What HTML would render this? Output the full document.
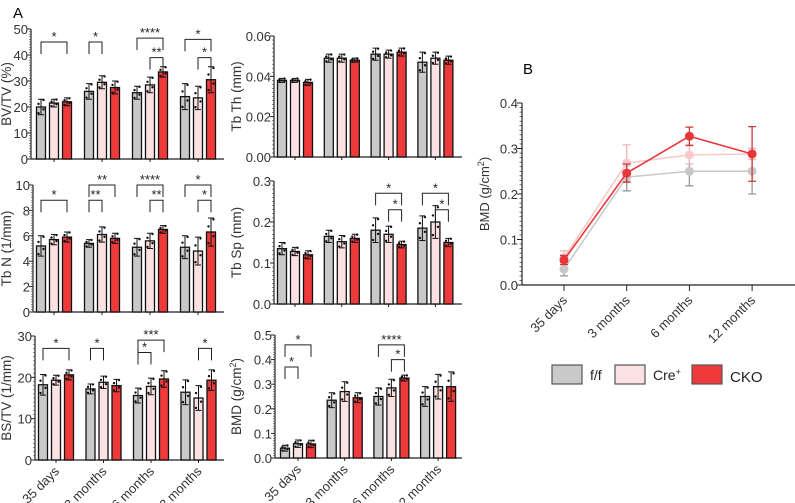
<!DOCTYPE html>
<html><head><meta charset="utf-8"><style>
html,body{margin:0;padding:0;background:#fff;}
svg{display:block;font-family:"Liberation Sans",Arial,sans-serif;}
</style></head><body>
<svg id="fig" width="795" height="503" viewBox="0 0 795 503">
<text x="13" y="18" font-size="15">A</text>
<text x="523" y="74" font-size="15">B</text>
</svg>
<script>
const groups = ["35 days","3 months","6 months","12 months"];
const genotypes = ["f/f","Cre+","CKO"];
const bvtvVals = [[20,21.5,22],[26,29.5,27.5],[25.5,28.5,33.5],[24,23.5,30.5]];
const bvtvErr = [[3,1.5,1.5],[3,2.5,2.5],[2.5,3,2],[5,4.5,5]];
const tbthVals = [[0.038,0.038,0.037],[0.049,0.049,0.048],[0.051,0.051,0.052],[0.047,0.049,0.048]];
const tbthErr = [[0.001,0.001,0.0015],[0.002,0.002,0.001],[0.003,0.002,0.002],[0.005,0.003,0.002]];
const tbnVals = [[5.2,5.7,5.9],[5.4,6.1,5.8],[5.1,5.6,6.5],[5.1,4.8,6.3]];
const tbnErr = [[0.8,0.4,0.4],[0.3,0.6,0.4],[0.7,0.6,0.3],[0.9,1.1,1.1]];
const tbspVals = [[0.135,0.128,0.12],[0.165,0.152,0.16],[0.18,0.17,0.145],[0.185,0.2,0.15]];
const tbspErr = [[0.015,0.01,0.01],[0.015,0.015,0.01],[0.03,0.02,0.008],[0.03,0.04,0.01]];
const bstvVals = [[18.2,19.3,20.6],[17.2,18.8,18],[15.6,17.8,19.6],[16.4,15,19.3]];
const bstvErr = [[2.5,1.2,1.2],[1.2,1.5,1.5],[1.8,2,2],[3,3,2.5]];
const bmdVals = [[0.04,0.058,0.057],[0.235,0.27,0.245],[0.25,0.285,0.325],[0.25,0.29,0.29]];
const bmdErr = [[0.012,0.015,0.015],[0.03,0.04,0.02],[0.035,0.035,0.012],[0.04,0.05,0.06]];
const bvtvSig = [[0,0,2,45,"*"],[1,0,1,45,"*"],[2,0,2,46.5,"****"],[2,1,2,39,"**"],[3,0,2,46,"*"],[3,1,2,39,"*"]];
const tbthSig = [];
const tbnSig = [[0,0,2,8.8,"*"],[1,0,2,10,"**"],[1,0,1,8.8,"**"],[2,0,2,10,"****"],[2,1,2,8.8,"**"],[3,0,2,10,"*"],[3,1,2,8.8,"*"]];
const tbspSig = [[2,0,2,0.27,"*"],[2,1,2,0.23,"*"],[3,0,2,0.27,"*"],[3,1,2,0.23,"*"]];
const bstvSig = [[0,0,2,27,"*"],[1,0,1,27,"*"],[2,0,2,29,"***"],[2,0,1,26,"*"],[3,1,2,27,"*"]];
const bmdSig = [[0,0,2,0.46,"*"],[0,0,1,0.37,"*"],[2,0,2,0.46,"****"],[2,1,2,0.40,"*"]];
const bvtvTicks = [0,10,20,30,40,50];
const tbthTicks = [0,0.02,0.04,0.06];
const tbnTicks = [0,2,4,6,8,10];
const tbspTicks = [0,0.1,0.2,0.3];
const bstvTicks = [0,10,20,30];
const bmdTicks = [0,0.1,0.2,0.3,0.4,0.5];
const lineMeans = [[0.035,0.237,0.25,0.25],[0.06,0.268,0.286,0.288],[0.055,0.246,0.327,0.288]];
const lineErr = [[0.015,0.03,0.032,0.05],[0.015,0.04,0.02,0.012],[0.01,0.02,0.02,0.06]];
const lineTicks = [0,0.1,0.2,0.3,0.4];

const colors = ["#c9c9c9","#fbe1e1","#ee3a3a"];
const NS="http://www.w3.org/2000/svg";
const svg=document.getElementById('fig');
function mk(tag,attrs,parent){const e=document.createElementNS(NS,tag);for(const k in attrs)e.setAttribute(k,attrs[k]);(parent||svg).appendChild(e);return e;}
function fmt(v,dec){return v.toFixed(dec);}

function barPanel(name,cfg,vals,errs,ticks,sigs,dec,label,labelHtml,showX){
  const g=mk('g',{});
  
  
  const max=ticks[ticks.length-1];
  const y=v=>cfg.yBot-(v/max)*(cfg.yBot-cfg.yTop);
  const gx=i=>cfg.g0+i*cfg.gs;
  const bx=(i,j)=>gx(i)+(j-1)*13;
  const ya=mk('line',{x1:cfg.ax,y1:cfg.yTop,x2:cfg.ax,y2:cfg.yBot,stroke:'#222','stroke-width':1.2},g);
  
  
  const xa=mk('line',{x1:cfg.ax,y1:cfg.yBot,x2:cfg.xEnd,y2:cfg.yBot,stroke:'#222','stroke-width':1.2},g);
  
  
  const nMinor=(ticks.length-1)*10;
  for(let k=0;k<=nMinor;k++){const v=max*k/nMinor;mk('line',{x1:cfg.ax-2,x2:cfg.ax,y1:y(v),y2:y(v),stroke:'#444','stroke-width':0.6},g);}
  ticks.forEach(t=>{
    mk('line',{x1:cfg.ax-4,x2:cfg.ax,y1:y(t),y2:y(t),stroke:'#222','stroke-width':1},g);
    const tx=mk('text',{x:cfg.ax-3,y:y(t)+5,'font-size':13,'text-anchor':'end',fill:'#333'},g);
    tx.textContent=fmt(t,dec);
    
    
  });
  const yl=mk('text',{x:0,y:0,'font-size':13.5,'text-anchor':'middle',fill:'#333',transform:`translate(${cfg.labX},${(cfg.yTop+cfg.yBot)/2}) rotate(-90)`},g);
  yl.innerHTML=labelHtml;
  
  
  groups.forEach((gname,i)=>{
    mk('line',{x1:gx(i),x2:gx(i),y1:cfg.yBot,y2:cfg.yBot+3,stroke:'#222'},g);
    if(showX){
      const t=mk('text',{x:0,y:0,'font-size':13,'text-anchor':'end',fill:'#333',transform:`translate(${gx(i)+4},${cfg.yBot+12}) rotate(-45)`},g);
      t.textContent=gname;
      
      
    }
    vals[i].forEach((v,j)=>{
      const r=mk('rect',{x:bx(i,j)-4.5,y:y(v),width:9,height:cfg.yBot-y(v),fill:colors[j],stroke:'#111','stroke-width':1.3},g);
      
      
      const e=errs[i][j];
      const eb=mk('path',{d:`M${bx(i,j)},${y(v+e)}V${y(v-e)}M${bx(i,j)-3},${y(v+e)}H${bx(i,j)+3}M${bx(i,j)-3},${y(v-e)}H${bx(i,j)+3}`,stroke:'#111','stroke-width':1,fill:'none'},g);
      
      
      [-0.8,-0.3,0.4,0.9].forEach((f,k)=>{
        mk('circle',{cx:bx(i,j)+(k%2?2.5:-2.5),cy:y(v+f*e),r:1.2,fill:'#111'},g);
      });
    });
  });
  sigs.forEach(s=>{
    const [gi,a,b,lv,lab]=s;
    const x1=bx(gi,a),x2=bx(gi,b),yy=y(lv);
    const p=mk('path',{d:`M${x1},${yy+12}V${yy}H${x2}V${yy+12}`,stroke:'#222','stroke-width':1,fill:'none'},g);
    
    
    const t=mk('text',{x:(x1+x2)/2,y:yy-1,'font-size':13,'text-anchor':'middle',fill:'#222'},g);
    t.textContent=lab;
    
    
  });
}
const L={ax:31,xEnd:224,g0:54,gs:48,labX:11};
const R={ax:274,xEnd:462,g0:295,gs:46.8,labX:241};
barPanel('bvtv',Object.assign({},L,{yTop:29,yBot:159}),bvtvVals,bvtvErr,bvtvTicks,bvtvSig,0,'','BV/TV (%)',false);
barPanel('tbth',Object.assign({},R,{yTop:36,yBot:157}),tbthVals,tbthErr,tbthTicks,tbthSig,2,'','Tb Th (mm)',false);
barPanel('tbn',Object.assign({},L,{ax:33,yTop:185,yBot:312,labX:11}),tbnVals,tbnErr,tbnTicks,tbnSig,0,'','Tb N (1/mm)',false);
barPanel('tbsp',Object.assign({},R,{yTop:181,yBot:304}),tbspVals,tbspErr,tbspTicks,tbspSig,1,'','Tb Sp (mm)',false);
barPanel('bstv',Object.assign({},L,{ax:35,g0:56,gs:47.5,yTop:336,yBot:460,labX:11}),bstvVals,bstvErr,bstvTicks,bstvSig,0,'','BS/TV (1/mm)',true);
barPanel('bmd',Object.assign({},R,{ax:275,g0:298,gs:46.7,yTop:335,yBot:458}),bmdVals,bmdErr,bmdTicks,bmdSig,1,'','BMD (g/cm<tspan dy="-5" font-size="9">2</tspan><tspan dy="5">)</tspan>',true);

(function(){
  const g=mk('g',{});
  
  
  const ax=522,yTop=103,yBot=285,xEnd=795;
  const y=v=>yBot-(v/0.4)*(yBot-yTop);
  const x=i=>564+i*62.7;
  mk('line',{x1:ax,y1:yTop,x2:ax,y2:yBot,stroke:'#222','stroke-width':1.2},g);
  mk('line',{x1:ax,y1:yBot,x2:xEnd,y2:yBot,stroke:'#222','stroke-width':1.2},g);
  for(let k=0;k<=40;k++){const v=0.4*k/40;mk('line',{x1:ax-2.5,x2:ax,y1:y(v),y2:y(v),stroke:'#333','stroke-width':0.7},g);}
  lineTicks.forEach(t=>{
    mk('line',{x1:ax-5,x2:ax,y1:y(t),y2:y(t),stroke:'#222'},g);
    const tx=mk('text',{x:ax-4,y:y(t)+5,'font-size':13,'text-anchor':'end',fill:'#333'},g);
    tx.textContent=t.toFixed(1);
    
    
  });
  const yl=mk('text',{x:0,y:0,'font-size':13,'text-anchor':'middle',fill:'#333',transform:`translate(489,${(yTop+yBot)/2}) rotate(-90)`},g);
  yl.innerHTML='BMD (g/cm<tspan dy="-5" font-size="9">2</tspan><tspan dy="5">)</tspan>';
  
  
  groups.forEach((gn,i)=>{
    mk('line',{x1:x(i),x2:x(i),y1:yBot,y2:yBot+6,stroke:'#222'},g);
    const t=mk('text',{x:0,y:0,'font-size':13,'text-anchor':'end',fill:'#333',transform:`translate(${x(i)+4},${yBot+16}) rotate(-45)`},g);
    t.textContent=gn;
    
    
  });
  const lc=['#c8c8c8','#f7c9c9','#e8363a'];
  const ec=['#999','#f2b3b3','#c83a3a'];
  [0,1,2].forEach(s=>{
    const pts=lineMeans[s].map((v,i)=>x(i)+','+y(v)).join(' ');
    const pl=mk('polyline',{points:pts,fill:'none',stroke:lc[s],'stroke-width':s==2?1.6:1.5},g);
    
    
    lineMeans[s].forEach((v,i)=>{
      const e=lineErr[s][i];
      mk('path',{d:`M${x(i)},${y(v+e)}V${y(v-e)}M${x(i)-4},${y(v+e)}H${x(i)+4}M${x(i)-4},${y(v-e)}H${x(i)+4}`,stroke:ec[s],'stroke-width':1.3,fill:'none'},g);
      const c=mk('circle',{cx:x(i),cy:y(v),r:4.5,fill:lc[s]},g);
      
      
    });
  });
  const lx=[552,615,692];
  genotypes.forEach((gn,k)=>{
    const r=mk('rect',{x:lx[k],y:365,width:30,height:19,fill:colors[k],stroke:'#555','stroke-width':1.2},g);
    
    
    const t=mk('text',{x:lx[k]+38,y:k==2?382:380,'font-size':k==2?15:14,fill:'#222'},g);
    t.innerHTML=k==1?'Cre<tspan dy="-5" font-size="9">+</tspan>':gn;
    
    
  });
})();
</script>
</body></html>
